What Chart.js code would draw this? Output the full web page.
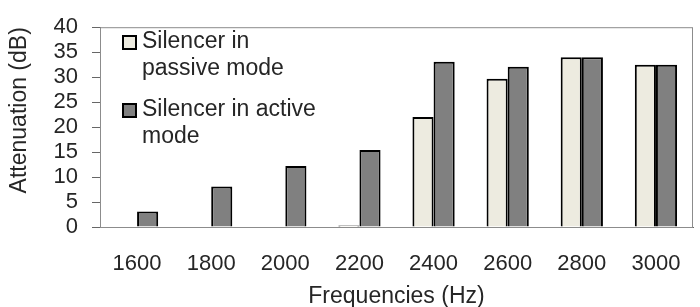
<!DOCTYPE html>
<html>
<head>
<meta charset="utf-8">
<script src="https://cdn.jsdelivr.net/npm/chart.js@4.4.1/dist/chart.umd.min.js"></script>
<style>
  html, body { margin: 0; padding: 0; background: #fff; }
  #wrap { width: 700px; height: 307px; }
</style>
</head>
<body>
<div id="wrap"><canvas id="bar_chart" width="700" height="307"></canvas></div>
<script>
var frequencies = ['1600', '1800', '2000', '2200', '2400', '2600', '2800', '3000'];
var passiveMode = [0, 0, 0, 0.3, 22, 29.7, 34, 32.5];
var activeMode = [3.1, 8.1, 12.2, 15.4, 33.1, 32.1, 34, 32.5];
var yTicks = [0, 5, 10, 15, 20, 25, 30, 35, 40];

var legendLines = [
  ['Silencer in', 'passive mode'],
  ['Silencer in active', 'mode']
];

var fontName = '"Liberation Sans", Arial, sans-serif';
var textColor = '#262626';

// light frame round the plot, then the legend on top of the bars
var framePlugin = {
  id: 'frame',
  beforeDatasetsDraw: function(chart) {
    var a = chart.chartArea;
    var ctx = chart.ctx;
    ctx.save();
    ctx.strokeStyle = '#8c8c8c';
    ctx.lineWidth = 1;
    ctx.strokeRect(a.left + 0.5, a.top + 0.5, a.right - a.left - 1, a.bottom - a.top);
    ctx.restore();
  },
  afterDatasetsDraw: function(chart) {
    var ctx = chart.ctx;
    var sets = chart.data.datasets;
    ctx.save();
    ctx.font = '23px ' + fontName;
    ctx.textBaseline = 'middle';
    var y = 42;
    for (var i = 0; i < sets.length; i++) {
      ctx.fillStyle = sets[i].backgroundColor;
      ctx.fillRect(123, y - 6, 13, 13);
      ctx.strokeStyle = '#000';
      ctx.lineWidth = 2;
      ctx.strokeRect(123, y - 6, 13, 13);
      ctx.fillStyle = textColor;
      for (var j = 0; j < legendLines[i].length; j++) {
        ctx.fillText(legendLines[i][j], 142, y + j * 27);
      }
      y += 68;
    }
    ctx.restore();
  }
};

var chart = new Chart(document.getElementById('bar_chart').getContext('2d'), {
  type: 'bar',
  data: {
    labels: frequencies,
    datasets: [{
      label: 'Silencer in passive mode',
      data: passiveMode,
      backgroundColor: '#edebe0',
      borderColor: '#000000',
      borderWidth: 2,
      borderSkipped: 'start',
      categoryPercentage: 0.57,
      barPercentage: 1.0
    }, {
      label: 'Silencer in active mode',
      data: activeMode,
      backgroundColor: '#808080',
      borderColor: '#000000',
      borderWidth: 2,
      borderSkipped: 'start',
      categoryPercentage: 0.57,
      barPercentage: 1.0
    }]
  },
  options: {
    responsive: false,
    animation: false,
    layout: { padding: { top: 11, right: 7, left: 0, bottom: 0 } },
    plugins: {
      legend: { display: false },
      tooltip: { enabled: false }
    },
    scales: {
      x: {
        offset: true,
        grid: { display: false },
        border: { display: true, color: '#666666', width: 1 },
        ticks: { color: textColor, font: { family: fontName, size: 22 }, padding: 16, maxRotation: 0, autoSkip: false },
        title: {
          display: true,
          text: 'Frequencies (Hz)',
          color: textColor,
          font: { family: fontName, size: 23, lineHeight: 0.9 },
          padding: 0
        },
        afterFit: function(scale) { scale.height = 80; }
      },
      y: {
        min: 0,
        max: 40,
        afterBuildTicks: function(scale) {
          scale.ticks = yTicks.map(function(v) { return { value: v }; });
        },
        grid: { drawOnChartArea: false, tickLength: 8, color: '#666666' },
        border: { display: true, color: '#666666', width: 1 },
        ticks: { color: textColor, font: { family: fontName, size: 22 }, padding: 14, autoSkip: false },
        title: {
          display: true,
          text: 'Attenuation (dB)',
          align: 'end',
          color: textColor,
          font: { family: fontName, size: 23, lineHeight: 1.0 },
          padding: { top: 8, bottom: 0 }
        },
        afterFit: function(scale) { scale.width = 100; }
      }
    }
  },
  plugins: [framePlugin]
});
</script>
</body>
</html>
